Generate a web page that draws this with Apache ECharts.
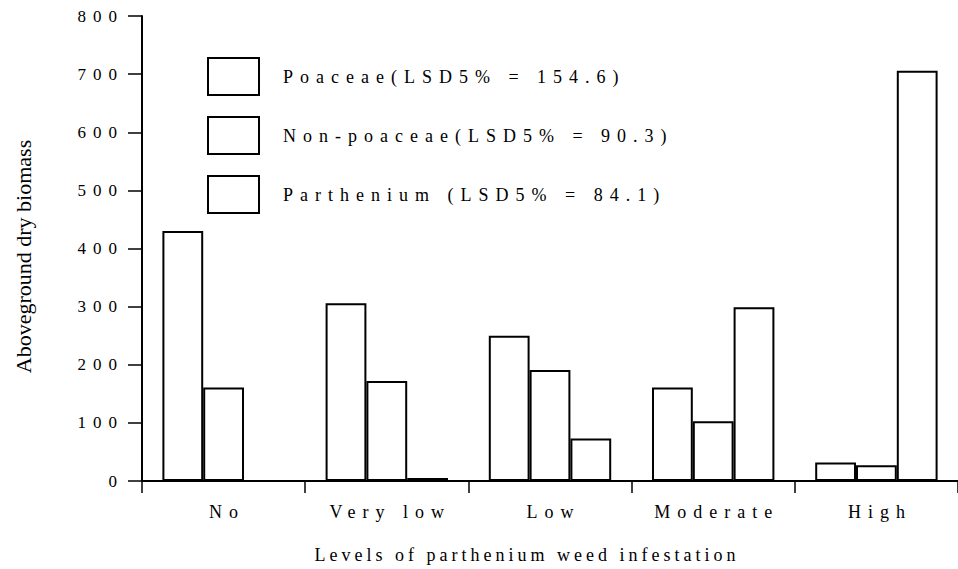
<!DOCTYPE html>
<html>
<head>
<meta charset="utf-8">
<script src="https://cdn.jsdelivr.net/npm/echarts@6/dist/echarts.min.js"></script>
<style>
html,body{margin:0;padding:0;background:#fff;}
#main{width:958px;height:569px;}
</style>
</head>
<body>
<div id="main"></div>
<script>
var categories = ['No', 'Very low', 'Low', 'Moderate', 'High'];
var poaceae = [430, 306, 250, 161, 32];
var nonPoaceae = [161, 172, 191, 103, 27];
var parthenium = [0, 5, 73, 299, 706];
var seriesNames = ['Poaceae(LSD5% = 154.6)', 'Non-poaceae(LSD5% = 90.3)', 'Parthenium (LSD5% = 84.1)'];
var yTicks = { min: 0, max: 800, interval: 100 };
var xTitle = 'Levels of parthenium weed infestation';
var yTitle = 'Aboveground dry biomass';

var FONT = 'Liberation Serif';
var chart = echarts.init(document.getElementById('main'), null, { renderer: 'svg' });

function barSeries(name, data) {
  return {
    name: name,
    type: 'bar',
    data: data,
    barWidth: '25%',
    barGap: '0%',
    itemStyle: { color: '#ffffff', borderColor: '#000000', borderWidth: 2 },
    emphasis: { disabled: true }
  };
}

chart.setOption({
  animation: false,
  backgroundColor: '#ffffff',
  textStyle: { fontFamily: FONT, color: '#000' },
  grid: { left: 142, right: -8, top: 16, bottom: 86, containLabel: false },
  legend: {
    orient: 'vertical',
    left: 202,
    top: 52,
    itemWidth: 51,
    itemHeight: 37,
    itemGap: 20,
    icon: 'rect',
    selectedMode: false,
    itemStyle: { color: '#ffffff', borderColor: '#000000', borderWidth: 2 },
    textStyle: { fontFamily: FONT, fontSize: 18, color: '#000', padding: [0, 0, 0, 19] },
    data: seriesNames
  },
  xAxis: {
    type: 'category',
    data: categories,
    boundaryGap: true,
    axisLine: { lineStyle: { color: '#000', width: 2 } },
    axisTick: { show: true, length: 12, lineStyle: { color: '#000', width: 1.5 } },
    axisLabel: { fontFamily: FONT, fontSize: 18, color: '#000', margin: 22, interval: 0, padding: [0, 0, 0, 7] },
    name: xTitle,
    nameLocation: 'middle',
    nameGap: 65,
    nameTextStyle: { fontFamily: FONT, fontSize: 18, color: '#000', padding: [0, 46, 0, 0] }
  },
  yAxis: {
    type: 'value',
    min: yTicks.min,
    max: yTicks.max,
    interval: yTicks.interval,
    splitLine: { show: false },
    axisLine: { show: true, lineStyle: { color: '#000', width: 2 } },
    axisTick: { show: true, length: 14, lineStyle: { color: '#000', width: 1.5 } },
    axisLabel: { fontFamily: FONT, fontSize: 17, color: '#000', margin: 18 },
    name: yTitle,
    nameLocation: 'middle',
    nameGap: 108,
    nameRotate: 90,
    nameTextStyle: { fontFamily: FONT, fontSize: 22, color: '#000', padding: [0, 16, 0, 0] }
  },
  series: [
    barSeries(seriesNames[0], poaceae),
    barSeries(seriesNames[1], nonPoaceae),
    barSeries(seriesNames[2], parthenium)
  ]
});

function applySpacing() {
  var texts = document.querySelectorAll('#main svg text');
  texts.forEach(function (t) {
    var s = t.textContent;
    if (s === yTitle) t.style.letterSpacing = '0px';
    else if (s === xTitle) t.style.letterSpacing = '4px';
    else t.style.letterSpacing = '7px';
  });
}
chart.on('finished', applySpacing);
applySpacing();
</script>
</body>
</html>
